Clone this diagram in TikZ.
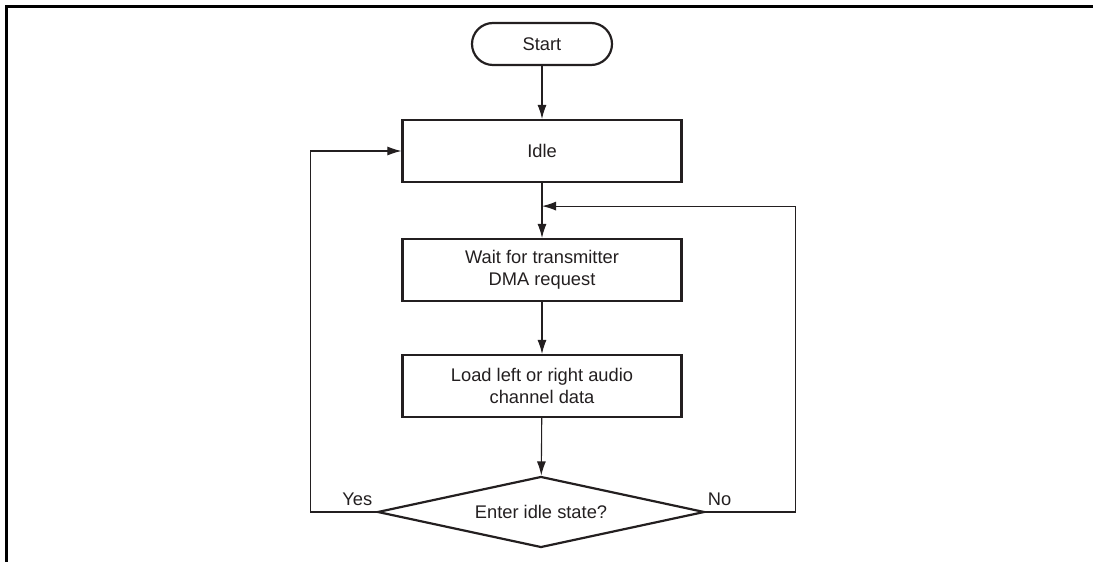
\documentclass[tikz,border=0pt]{standalone}
\usepackage{fontspec}
\setmainfont{Liberation Sans}
\usetikzlibrary{arrows.meta,positioning,calc,shapes.geometric}
\definecolor{ink}{RGB}{35,31,32}

\begin{document}
\begin{tikzpicture}[
  x=1bp, y=-1bp,
  font=\fontsize{18.3bp}{22bp}\selectfont,
  >={Latex[length=14bp,width=9bp]},
  every node/.style={text=ink},
  process/.style={draw=ink, line width=2.2bp, minimum width=279bp, minimum height=62bp, inner sep=0pt, align=center},
  terminal/.style={draw=ink, line width=2.2bp, rounded corners=21bp, minimum width=140bp, minimum height=42bp, inner sep=0pt},
  decision/.style={diamond, draw=ink, line width=2.2bp, aspect=4.6, minimum width=327bp, minimum height=71bp, inner sep=0pt},
  flow/.style={draw=ink, line width=1.1bp, ->},
  tag/.style={inner sep=0pt}
]
  \useasboundingbox (0,0) rectangle (1093,562);
  % page frame, cut off at right and bottom
  \draw[black, line width=2.2bp] (6.5,562) -- (6.5,6.5) -- (1093,6.5);

  \node[terminal] (start) at (542,44) {Start};
  \node[process] (idle) at (542,151) {Idle};
  \node[process] (wait) at (542,270) {Wait for transmitter\\DMA request};
  \node[process] (load) at (542,386) {Load left or right audio\\channel data};
  \node[decision] (decide) at (541,512) {Enter idle state?};

  \coordinate (join) at ([yshift=-23bp]idle.south);

  \draw[flow] (start) -- (idle);
  \draw[flow] (idle) -- (wait);
  \draw[flow] (wait) -- (load);
  \draw[flow] (load) -- (decide);

  % loop back
  \draw[flow] (decide.west) -- ++(-66,0) |- (idle.west);
  \draw[flow] (decide.east) -- ++(90,0) |- (join);
  \node[tag, above left=6bp and 4bp of decide.west] (yes) {Yes};
  \node[tag, above right=6bp and 2bp of decide.east] (no) {No};
\end{tikzpicture}
\end{document}
